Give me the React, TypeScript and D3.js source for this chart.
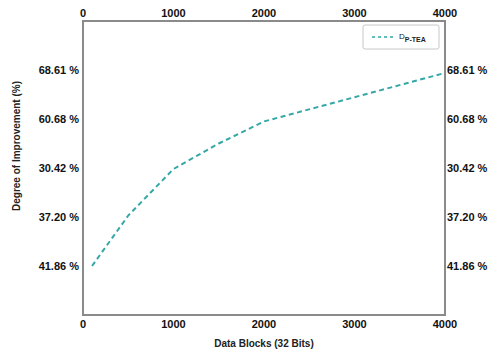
import React from "react";
import * as d3 from "d3";

const xValues = [100, 500, 1000, 1500, 2000, 4000];
const yLevels = [1.0, 2.03, 2.98, 3.5, 3.95, 4.94];
const xTicks = [0, 1000, 2000, 3000, 4000];
const yTickPositions = [1, 2, 3, 4, 5];
const yTickLabels = ["41.86 %", "37.20 %", "30.42 %", "60.68 %", "68.61 %"];
const seriesName = "D";
const seriesSub = "P-TEA";

const W = 488;
const H = 353;
const left = 83;
const right = 445;
const top = 21;
const bottom = 315;
const font = "Liberation Sans, Arial, sans-serif";
const lineColor = "#35a7a7";

export default function App() {
  const x = d3.scaleLinear().domain([0, 4000]).range([left, right]);
  const y = d3.scaleLinear().domain([0, 6]).range([bottom, top]);
  const pts = xValues.map((v, i) => [v, yLevels[i]] as [number, number]);
  const line = d3
    .line<[number, number]>()
    .x((d) => x(d[0]))
    .y((d) => y(d[1]))
    .curve(d3.curveLinear);

  return (
    <svg
      width={W}
      height={H}
      style={{ position: "absolute", left: 0, top: 0, background: "#fff" }}
      fontFamily={font}
    >
      <rect x={0} y={0} width={W} height={H} fill="#fff" />
      <path
        d={line(pts) || ""}
        fill="none"
        stroke={lineColor}
        strokeWidth={2}
        strokeDasharray="5,3.5"
      />
      <rect
        x={left}
        y={top}
        width={right - left}
        height={bottom - top}
        fill="none"
        stroke="#8a8a8a"
        strokeWidth={2}
      />
      {xTicks.map((t) => (
        <g key={"xt" + t}>
          <text x={x(t)} y={17} textAnchor="middle" fontSize={11} fontWeight="bold" fill="#111">
            {t}
          </text>
          <text x={x(t)} y={328} textAnchor="middle" fontSize={11} fontWeight="bold" fill="#111">
            {t}
          </text>
        </g>
      ))}
      {yTickPositions.map((p, i) => (
        <g key={"yt" + i}>
          <text x={79} y={y(p)} dy="0.35em" textAnchor="end" fontSize={11} fontWeight="bold" fill="#111">
            {yTickLabels[i]}
          </text>
          <text x={447} y={y(p)} dy="0.35em" textAnchor="start" fontSize={11} fontWeight="bold" fill="#111">
            {yTickLabels[i]}
          </text>
        </g>
      ))}
      <text x={(left + right) / 2} y={347} textAnchor="middle" fontSize={10} fontWeight="bold" fill="#222">
        Data Blocks (32 Bits)
      </text>
      <text
        transform={`translate(20,146) rotate(-90)`}
        textAnchor="middle"
        fontSize={10}
        fontWeight="bold"
        fill="#222"
      >
        Degree of Improvement (%)
      </text>
      <g>
        <rect x={363} y={25} width={76} height={24} rx={2} fill="#fff" stroke="#c8c8c8" strokeWidth={1} />
        <line x1={372} x2={396} y1={37} y2={37} stroke={lineColor} strokeWidth={1.5} strokeDasharray="3,3" />
        <text x={399} y={39} fontSize={8} fill="#222">
          {seriesName}
          <tspan fontSize={7} fontWeight="bold" dy={3}>{seriesSub}</tspan>
        </text>
      </g>
    </svg>
  );
}
